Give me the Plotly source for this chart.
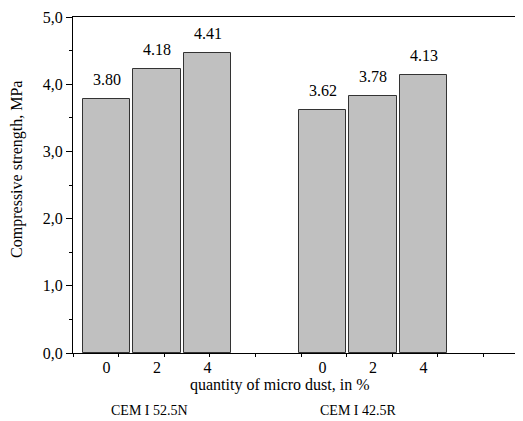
import plotly.graph_objects as go

# ---- data ----
cements = ["CEM I 52.5N", "CEM I 42.5R"]
dust_pct = ["0", "2", "4"]
strength_52 = [3.78, 4.23, 4.47]
strength_42 = [3.62, 3.82, 4.13]
labels_52 = ["3.80", "4.18", "4.41"]
labels_42 = ["3.62", "3.78", "4.13"]
y_ticks = [0, 1, 2, 3, 4, 5]
y_tick_text = ["0,0", "1,0", "2,0", "3,0", "4,0", "5,0"]

# ---- layout helpers (positions on a plain numeric x axis) ----
group_centers = [84, 300]
bar_step = 50.5
bar_width = 47.5

FONT = "Liberation Serif, Times New Roman, serif"

xs, ys, txt, ticks_x, ticks_t = [], [], [], [], []
for gc, vals, labs in zip(group_centers, [strength_52, strength_42], [labels_52, labels_42]):
    for i, (v, l) in enumerate(zip(vals, labs)):
        x = gc + (i - 1) * bar_step
        xs.append(x)
        ys.append(v)
        txt.append(l)
        ticks_x.append(x)
        ticks_t.append(dust_pct[i])

fig = go.Figure()
fig.add_trace(go.Bar(
    x=xs, y=ys, width=bar_width,
    marker=dict(color="#c0c0c0", line=dict(color="#333333", width=1)),
    hoverinfo="skip", showlegend=False,
))
# invisible trace on overlaying axis to carry the minor x ticks
fig.add_trace(go.Scatter(x=[0, 450], y=[0, 0], xaxis="x2", mode="markers",
                         marker=dict(opacity=0), showlegend=False, hoverinfo="skip"))

for x, y, t in zip(xs, ys, txt):
    fig.add_annotation(x=x, y=y, text=t, showarrow=False, yanchor="bottom",
                       yshift=9, font=dict(family=FONT, size=16, color="black"))

fig.add_annotation(x=207, y=0, xref="x", yref="paper", text="quantity of micro dust, in %",
                   showarrow=False, yanchor="middle", yshift=-32,
                   font=dict(family=FONT, size=16, color="black"))
for cx, name in zip([76, 285], cements):
    fig.add_annotation(x=cx, y=0, xref="x", yref="paper", text=name,
                       showarrow=False, yanchor="middle", yshift=-57,
                       font=dict(family=FONT, size=14, color="black"))
fig.add_annotation(x=0, y=0.545, xref="paper", yref="paper", text="Compressive strength, MPa",
                   textangle=-90, showarrow=False, xanchor="center", yanchor="middle",
                   xshift=-56, font=dict(family=FONT, size=16, color="black"))

fig.update_layout(
    width=515, height=413,
    margin=dict(l=65, r=0, t=9, b=68),
    paper_bgcolor="white", plot_bgcolor="white",
    bargap=0,
    xaxis=dict(range=[0, 450], showgrid=False, zeroline=False,
               showline=True, linecolor="black", linewidth=1.2, mirror=True,
               tickmode="array", tickvals=ticks_x, ticktext=ticks_t, ticks="",
               tickfont=dict(family=FONT, size=16, color="black")),
    xaxis2=dict(range=[0, 450], overlaying="x", side="bottom", showgrid=False,
                zeroline=False, showline=False, tick0=0, dtick=45.6,
                ticks="outside", ticklen=3, tickcolor="black", showticklabels=False),
    yaxis=dict(range=[0, 5], showgrid=False, zeroline=False,
               showline=True, linecolor="black", linewidth=1.2,
               tickmode="array", tickvals=y_ticks, ticktext=y_tick_text,
               ticks="outside", ticklen=6, tickcolor="black",
               minor=dict(dtick=0.5, ticks="outside", ticklen=3, tickcolor="black"),
               tickfont=dict(family=FONT, size=16, color="black")),
)

fig.write_html("out.html")
